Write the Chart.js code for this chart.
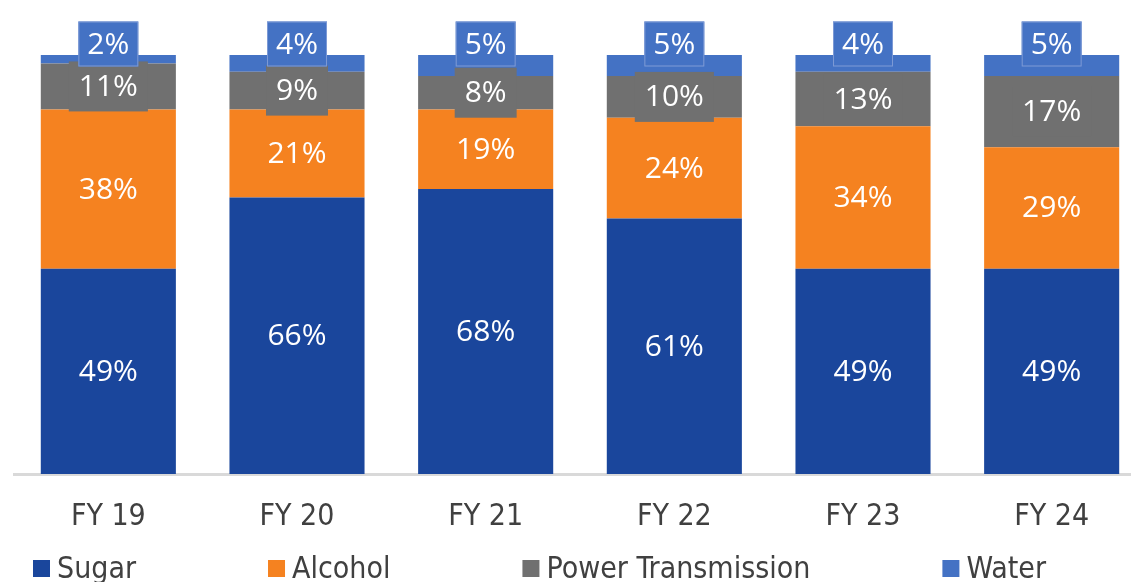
<!DOCTYPE html>
<html>
<head>
<meta charset="utf-8">
<script src="https://cdn.jsdelivr.net/npm/chart.js@4.4.1/dist/chart.umd.min.js"></script>
<style>
  html, body { margin: 0; padding: 0; background: #fff; overflow: hidden; }
  #wrap { position: relative; width: 1146px; height: 582px; }
</style>
</head>
<body>
<div id="wrap"><canvas id="c"></canvas></div>
<script>
const categories = ['FY 19', 'FY 20', 'FY 21', 'FY 22', 'FY 23', 'FY 24'];
const sugar = [49, 66, 68, 61, 49, 49];
const alcohol = [38, 21, 19, 24, 34, 29];
const power = [11, 9, 8, 10, 13, 17];
const water = [2, 4, 5, 5, 4, 5];
const seriesNames = ['Sugar', 'Alcohol', 'Power Transmission', 'Water'];
const colors = ['#1A469C', '#F58220', '#707070', '#4472C4'];

const axisFont = '"DejaVu Sans Condensed", "DejaVu Sans", sans-serif';
const labelFont = '"Open Sans", sans-serif';

const labelPlugin = {
  id: 'segLabels',
  afterDatasetsDraw(chart) {
    const ctx = chart.ctx;
    ctx.save();
    ctx.font = '30px ' + labelFont;
    ctx.textAlign = 'center';
    ctx.textBaseline = 'middle';
    chart.data.datasets.forEach((ds, di) => {
      const meta = chart.getDatasetMeta(di);
      meta.data.forEach((el, i) => {
        const p = el.getProps(['x', 'y', 'base'], true);
        const txt = ds.data[i] + '%';
        const tw = ctx.measureText(txt).width;
        let cy = (p.y + p.base) / 2;
        if (di === 3) {
          cy = p.y - 11;
          const w = tw + 18, h = 45;
          ctx.fillStyle = '#4472C4';
          ctx.fillRect(p.x - w / 2, cy - h / 2, w, h);
          ctx.strokeStyle = '#7E9BD6';
          ctx.lineWidth = 1;
          ctx.strokeRect(p.x - w / 2 + 0.5, cy - h / 2 + 0.5, w - 1, h - 1);
        } else if (di === 2) {
          const w = tw + 20, h = 50;
          ctx.fillStyle = '#707070';
          ctx.fillRect(p.x - w / 2, cy - h / 2, w, h);
        }
        ctx.fillStyle = '#FFFFFF';
        ctx.fillText(txt, p.x, cy + 1);
      });
    });
    ctx.restore();
  }
};

const legendPlugin = {
  id: 'bottomLegend',
  afterDraw(chart) {
    const ctx = chart.ctx;
    ctx.save();
    ctx.font = '30px ' + axisFont;
    ctx.textBaseline = 'alphabetic';
    ctx.textAlign = 'left';
    const box = 17, gapText = 7, gapItem = 132;
    let x = 33;
    const baseline = 578;
    chart.data.datasets.forEach((ds) => {
      ctx.fillStyle = ds.backgroundColor;
      ctx.fillRect(x, baseline - 18, box, box);
      ctx.fillStyle = '#404040';
      const tx = x + box + gapText;
      ctx.fillText(ds.label, tx, baseline);
      x = tx + ctx.measureText(ds.label).width + gapItem;
    });
    ctx.restore();
  }
};

const seriesValues = [sugar, alcohol, power, water];
new Chart(document.getElementById('c'), {
  type: 'bar',
  data: {
    labels: categories,
    datasets: seriesValues.map((vals, k) => ({
      label: seriesNames[k],
      data: vals,
      backgroundColor: colors[k],
      borderWidth: 0,
      categoryPercentage: 1,
      barPercentage: 0.716
    }))
  },
  options: {
    responsive: true,
    maintainAspectRatio: false,
    animation: false,
    layout: { padding: { top: 55, left: 14, right: 0, bottom: 0 } },
    plugins: { legend: { display: false }, tooltip: { enabled: false } },
    scales: {
      x: {
        stacked: true,
        grid: { display: false, drawTicks: false },
        border: { display: true, color: '#D9D9D9', width: 3 },
        ticks: { color: '#404040', font: { family: axisFont, size: 30 }, padding: 25 },
        afterFit(s) { s.height = 108; }
      },
      y: {
        stacked: true,
        display: false,
        min: 0,
        max: 100
      }
    }
  },
  plugins: [labelPlugin, legendPlugin]
});
</script>
</body>
</html>
